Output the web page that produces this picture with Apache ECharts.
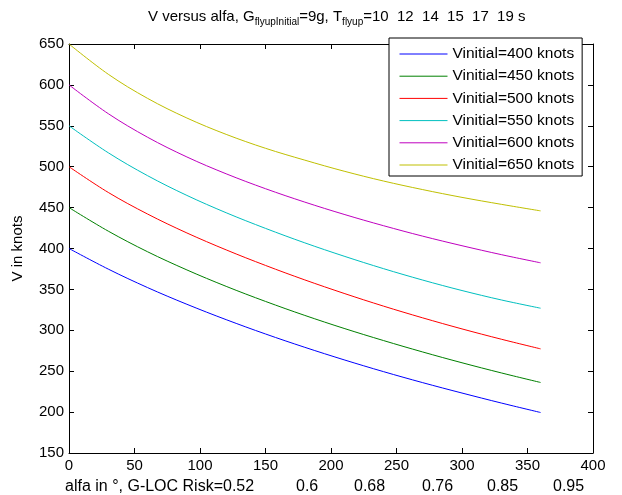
<!DOCTYPE html>
<html>
<head>
<meta charset="utf-8">
<script src="https://cdn.jsdelivr.net/npm/echarts@6/dist/echarts.min.js"></script>
<style>html,body{margin:0;padding:0;background:#fff;}#c{width:622px;height:495px;}</style>
</head>
<body>
<div id="c"></div>
<script>
// ---- data ----
const alfa = [0, 30, 60, 90, 120, 150, 180, 210, 240, 270, 300, 330, 360];
const v400 = [400, 374.8, 352.2, 331.8, 313, 295.5, 279.2, 263.9, 249.5, 236, 223.3, 211.1, 199.5];
const v450 = [450, 421.2, 396, 373.8, 353.7, 335.3, 318.2, 302.3, 287.5, 273.5, 260.3, 247.9, 236.2];
const v500 = [500, 468.5, 442.1, 419, 398.3, 379.3, 361.6, 345.1, 329.6, 315.2, 301.7, 289.1, 277.3];
const v550 = [550, 517, 489, 464.9, 443.7, 424.6, 406.9, 390.6, 375.4, 361.4, 348.6, 337.1, 327];
const v600 = [600, 564.8, 536, 511.9, 491.3, 473.1, 456.7, 441.7, 427.9, 415.1, 403.4, 392.5, 382.5];
const v650 = [650, 613, 583.5, 559.5, 539.5, 522.5, 508, 494.5, 482.5, 472, 462.5, 454, 446];
const seriesNames = ['Vinitial=400 knots', 'Vinitial=450 knots', 'Vinitial=500 knots',
                     'Vinitial=550 knots', 'Vinitial=600 knots', 'Vinitial=650 knots'];
const xTicks = [0, 50, 100, 150, 200, 250, 300, 350, 400];
const yTicks = [150, 200, 250, 300, 350, 400, 450, 500, 550, 600, 650];
const riskLabels = ['alfa in \u00b0, G-LOC Risk=0.52', '0.6', '0.68', '0.76', '0.85', '0.95'];

// ---- styling ----
const FONT = 'Liberation Sans, Arial, sans-serif';
const colors = ['#0000ff', '#008000', '#ff0000', '#00bfbf', '#bf00bf', '#bfbf00'];
const riskLeft = [65, 296, 354, 422, 487, 553];
const allValues = [v400, v450, v500, v550, v600, v650];

const chart = echarts.init(document.getElementById('c'), null, {renderer: 'canvas'});
const axisCommon = {
  type: 'value',
  axisLine: {show: true, onZero: false, lineStyle: {color: '#000', width: 1}},
  axisTick: {show: true, inside: true, length: 5, lineStyle: {color: '#000'}},
  splitLine: {show: false}
};
const option = {
  animation: false,
  backgroundColor: '#fff',
  title: {
    text: '{a|V versus alfa, G}{b|flyupInitial}{a|=9g, T}{b|flyup}{a|=10  12  14  15  17  19 s}',
    left: 143,
    top: 4,
    textStyle: {
      fontWeight: 'normal',
      rich: {
        a: {fontSize: 15, fontFamily: FONT, fontWeight: 'normal', color: '#000', verticalAlign: 'top', lineHeight: 17},
        b: {fontSize: 10, fontFamily: FONT, fontWeight: 'normal', color: '#000', verticalAlign: 'top', lineHeight: 17, padding: [8, 0, 0, 0]}
      }
    }
  },
  grid: {left: 69, right: 29, top: 44, bottom: 42, containLabel: false},
  legend: {
    orient: 'vertical',
    left: 389,
    top: 38,
    padding: [8, 8, 3, 10],
    itemWidth: 48,
    itemHeight: 14,
    itemGap: 6.2,
    itemTextGap: 5,
    borderColor: '#000',
    borderWidth: 1,
    backgroundColor: '#fff',
    itemStyle: {opacity: 0},
    lineStyle: {width: 1},
    textStyle: {fontSize: 15.5, fontFamily: FONT, color: '#000'},
    data: seriesNames
  },
  xAxis: [
    Object.assign({}, axisCommon, {
      min: xTicks[0], max: xTicks[xTicks.length - 1], interval: 50, position: 'bottom',
      axisLabel: {color: '#000', fontSize: 15, fontFamily: FONT, margin: 5}
    }),
    Object.assign({}, axisCommon, {
      min: xTicks[0], max: xTicks[xTicks.length - 1], interval: 50, position: 'top',
      axisLabel: {show: false}
    })
  ],
  yAxis: [
    Object.assign({}, axisCommon, {
      min: yTicks[0], max: yTicks[yTicks.length - 1], interval: 50, position: 'left',
      name: 'V in knots', nameLocation: 'middle', nameGap: 44,
      nameTextStyle: {fontSize: 15, fontFamily: FONT, color: '#000'},
      axisLabel: {color: '#000', fontSize: 15, fontFamily: FONT, margin: 5}
    }),
    Object.assign({}, axisCommon, {
      min: yTicks[0], max: yTicks[yTicks.length - 1], interval: 50, position: 'right',
      axisLabel: {show: false}
    })
  ],
  series: allValues.map((vals, i) => ({
    name: seriesNames[i],
    type: 'line',
    xAxisIndex: 0,
    yAxisIndex: 0,
    data: alfa.map((a, j) => [a, vals[j]]),
    smooth: 0.35,
    symbol: 'none',
    showSymbol: false,
    lineStyle: {color: colors[i], width: 1},
    itemStyle: {color: colors[i]}
  })),
  graphic: riskLabels.map((t, i) => ({
    type: 'text',
    left: riskLeft[i],
    top: 479,
    style: {text: t, fontSize: 16, fontFamily: FONT, fill: '#000'}
  }))
};
chart.setOption(option);
</script>
</body>
</html>
